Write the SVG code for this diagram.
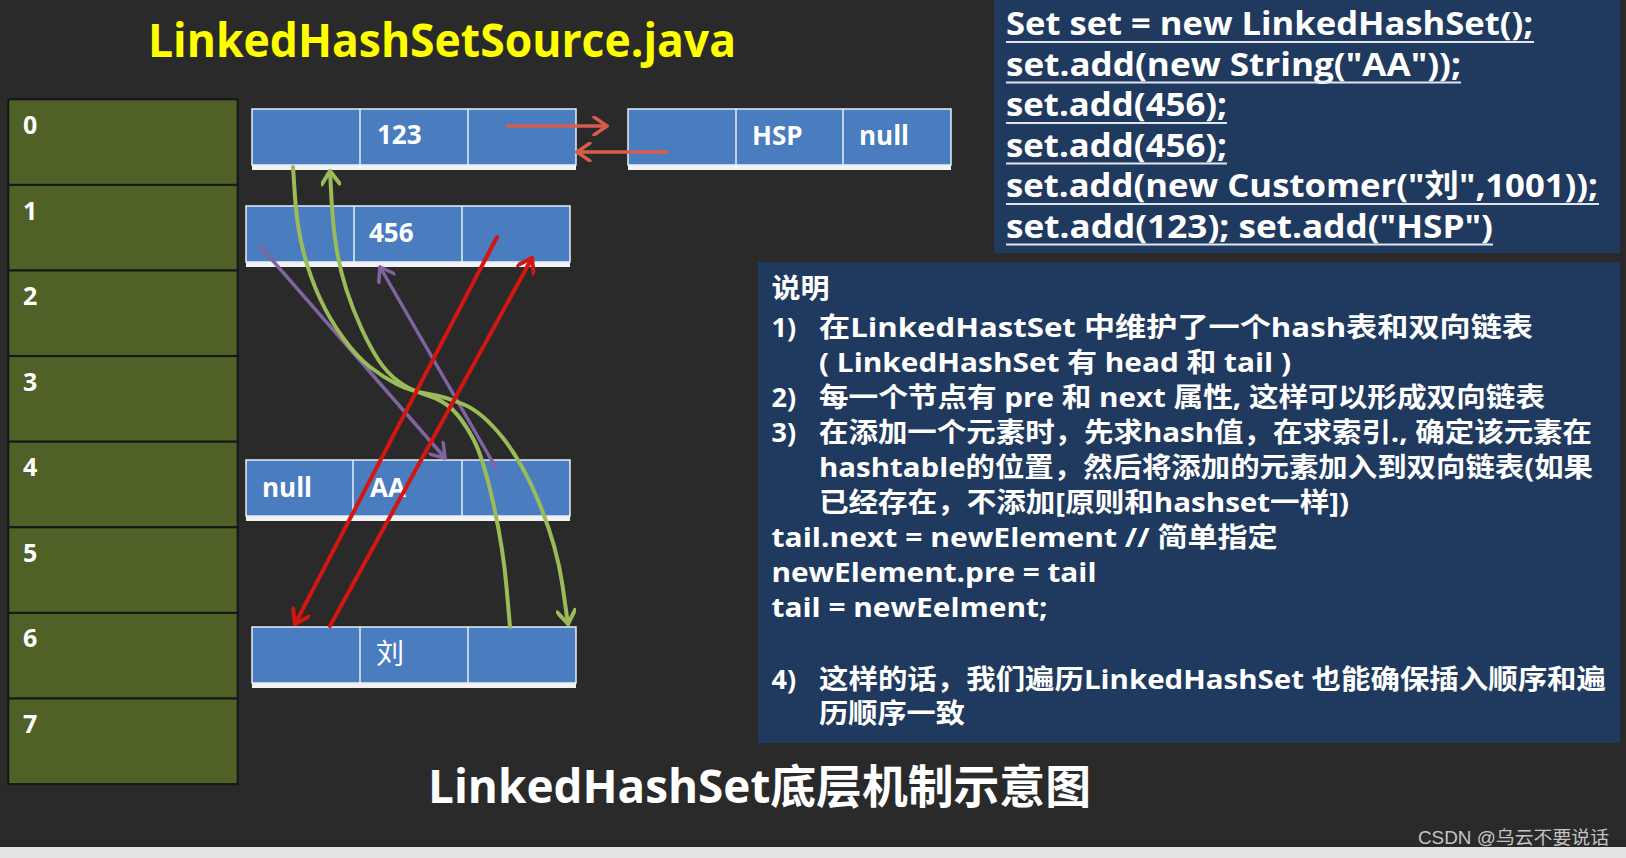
<svg xmlns="http://www.w3.org/2000/svg" width="1626" height="858" viewBox="0 0 1626 858">
<defs>
<style>
.bg{fill:#2a2a2a}
.cell{fill:#4f6127;stroke:#161616;stroke-width:2}
.idx{font-family:'Open Sans','Liberation Sans',sans-serif;font-weight:700;font-size:25px;fill:#ffffff}
.nbox{fill:#4a7cc0;stroke:#e8eef8;stroke-width:1.5}
.ndiv{stroke:#e8eef8;stroke-width:1.5}
.nbar{fill:#f2f2f2}
.ntxt{font-family:'Open Sans','Liberation Sans',sans-serif;font-weight:700;font-size:26px;fill:#ffffff}
.ncjk{font-family:'Noto Sans CJK SC',sans-serif;font-weight:400;font-size:28px;fill:#ffffff}
.panel{fill:#1f3a5e}
.code{font-family:'Open Sans','Noto Sans CJK SC',sans-serif;font-weight:700;font-size:32px;fill:#ffffff}
.uline{stroke:#dfe6f0;stroke-width:2}
.exp{font-family:'Open Sans','Noto Sans CJK SC',sans-serif;font-weight:700;font-size:27px;fill:#ffffff}
.title{font-family:'Open Sans','Noto Sans CJK SC',sans-serif;font-weight:700;font-size:46px}
.green{fill:none;stroke:#9bbb59;stroke-width:4;stroke-linecap:round}
.purple{fill:none;stroke:#8064a2;stroke-width:3.5;stroke-linecap:round}
.red{fill:none;stroke:#d3160f;stroke-width:4;stroke-linecap:round}
.salmon{fill:none;stroke:#d65c4c;stroke-width:3.5;stroke-linecap:round}
</style>
<marker id="mg" markerUnits="userSpaceOnUse" viewBox="0 0 20 20" refX="17" refY="10" markerWidth="20" markerHeight="20" orient="auto"><path d="M4,1 L17,10 L4,19" fill="none" stroke="#9bbb59" stroke-width="4" stroke-linecap="round" stroke-linejoin="round"/></marker>
<marker id="mp" markerUnits="userSpaceOnUse" viewBox="0 0 20 20" refX="17" refY="10" markerWidth="20" markerHeight="20" orient="auto"><path d="M4,1 L17,10 L4,19" fill="none" stroke="#8064a2" stroke-width="3.5" stroke-linecap="round" stroke-linejoin="round"/></marker>
<marker id="mr" markerUnits="userSpaceOnUse" viewBox="0 0 20 20" refX="17" refY="10" markerWidth="20" markerHeight="20" orient="auto"><path d="M4,1 L17,10 L4,19" fill="none" stroke="#d3160f" stroke-width="4" stroke-linecap="round" stroke-linejoin="round"/></marker>
<marker id="ms" markerUnits="userSpaceOnUse" viewBox="0 0 20 20" refX="17" refY="10" markerWidth="20" markerHeight="20" orient="auto"><path d="M4,1 L17,10 L4,19" fill="none" stroke="#d65c4c" stroke-width="3.5" stroke-linecap="round" stroke-linejoin="round"/></marker>
</defs>
<rect class="bg" x="0" y="0" width="1626" height="858"/>
<rect x="0" y="847" width="1626" height="11" fill="#e4e4e4"/>

<text class="title" x="148" y="57" fill="#ffff00" textLength="588" lengthAdjust="spacingAndGlyphs">LinkedHashSetSource.java</text>

<g id="table">
<g id="row0"><rect class="cell" x="8.3" y="99.3" width="229.4" height="85.6"/><text class="idx" x="23" y="134">0</text></g>
<g id="row1"><rect class="cell" x="8.3" y="184.9" width="229.4" height="85.6"/><text class="idx" x="23" y="219.5">1</text></g>
<g id="row2"><rect class="cell" x="8.3" y="270.5" width="229.4" height="85.6"/><text class="idx" x="23" y="305">2</text></g>
<g id="row3"><rect class="cell" x="8.3" y="356.1" width="229.4" height="85.6"/><text class="idx" x="23" y="390.6">3</text></g>
<g id="row4"><rect class="cell" x="8.3" y="441.7" width="229.4" height="85.6"/><text class="idx" x="23" y="476.2">4</text></g>
<g id="row5"><rect class="cell" x="8.3" y="527.3" width="229.4" height="85.6"/><text class="idx" x="23" y="561.8">5</text></g>
<g id="row6"><rect class="cell" x="8.3" y="612.9" width="229.4" height="85.6"/><text class="idx" x="23" y="647.4">6</text></g>
<g id="row7"><rect class="cell" x="8.3" y="698.5" width="229.4" height="85.6"/><text class="idx" x="23" y="733">7</text></g>
</g>

<g id="node-123">
<rect class="nbar" x="252" y="163" width="324" height="7"/>
<rect class="nbox" x="252" y="109" width="324" height="56"/>
<line class="ndiv" x1="360" y1="109" x2="360" y2="165"/><line class="ndiv" x1="468" y1="109" x2="468" y2="165"/>
<text class="ntxt" x="377" y="144">123</text>
</g>
<g id="node-HSP">
<rect class="nbar" x="628" y="163" width="323" height="7"/>
<rect class="nbox" x="628" y="109" width="323" height="56"/>
<line class="ndiv" x1="736" y1="109" x2="736" y2="165"/><line class="ndiv" x1="843" y1="109" x2="843" y2="165"/>
<text class="ntxt" x="752" y="145">HSP</text>
<text class="ntxt" x="859" y="145">null</text>
</g>
<g id="node-456">
<rect class="nbar" x="246" y="260" width="324" height="7"/>
<rect class="nbox" x="246" y="206" width="324" height="56"/>
<line class="ndiv" x1="354" y1="206" x2="354" y2="262"/><line class="ndiv" x1="462" y1="206" x2="462" y2="262"/>
<text class="ntxt" x="369" y="242">456</text>
</g>
<g id="node-AA">
<rect class="nbar" x="246" y="514" width="324" height="7"/>
<rect class="nbox" x="246" y="460" width="324" height="56"/>
<line class="ndiv" x1="353" y1="460" x2="353" y2="516"/><line class="ndiv" x1="462" y1="460" x2="462" y2="516"/>
<text class="ntxt" x="262" y="497">null</text>
<text class="ntxt" x="370" y="497">AA</text>
</g>
<g id="node-liu">
<rect class="nbar" x="252" y="681" width="324" height="7"/>
<rect class="nbox" x="252" y="627" width="324" height="56"/>
<line class="ndiv" x1="360" y1="627" x2="360" y2="683"/><line class="ndiv" x1="468" y1="627" x2="468" y2="683"/>
<text class="ncjk" x="376" y="664">刘</text>
</g>

<g id="connectors">
<path class="salmon" d="M508,126 L607,126" marker-end="url(#ms)"/>
<path class="salmon" d="M667,152 L577,152" marker-end="url(#ms)"/>
<path class="purple" d="M260,246 L445,458" marker-end="url(#mp)"/>
<path class="purple" d="M496,468 L380,267" marker-end="url(#mp)"/>
<path class="green" d="M293,167 L295,197 Q297,227 303.5,252 Q310,277 320,298.5 Q330,320 343.5,338.5 Q357,357 370,367 Q383,377 396.5,384 Q410,391 428.5,394 Q447,397 465,405 Q483,413 503,438 Q523,463 540,505 Q557,547 562.5,585.5 L568,624" marker-end="url(#mg)"/>
<path class="green" d="M510,627 L506.5,587 Q503,547 493,502 Q483,457 473,438.5 Q463,420 453,410 Q443,400 426.5,395 Q410,390 398.5,381.5 Q387,373 378.5,360 Q370,347 361.5,328.5 Q353,310 346.5,290 Q340,270 336.5,248.5 Q333,227 331.5,199.5 L330,171" marker-end="url(#mg)"/>
<path class="red" d="M497,237 L295,624" marker-end="url(#mr)"/>
<path class="red" d="M330,626 L532,258" marker-end="url(#mr)"/>
</g>

<g id="code-box">
<rect class="panel" x="994" y="0" width="626" height="253"/>
<text class="code" x="1006" y="35" textLength="527" lengthAdjust="spacingAndGlyphs">Set set = new LinkedHashSet();</text>
<line class="uline" x1="1006" y1="42" x2="1534" y2="42"/>
<text class="code" x="1006" y="75.5" textLength="455" lengthAdjust="spacingAndGlyphs">set.add(new String("AA"));</text>
<line class="uline" x1="1006" y1="82.5" x2="1461" y2="82.5"/>
<text class="code" x="1006" y="116" textLength="221" lengthAdjust="spacingAndGlyphs">set.add(456);</text>
<line class="uline" x1="1006" y1="123" x2="1227" y2="123"/>
<text class="code" x="1006" y="156.5" textLength="221" lengthAdjust="spacingAndGlyphs">set.add(456);</text>
<line class="uline" x1="1006" y1="163.5" x2="1227" y2="163.5"/>
<text class="code" x="1006" y="197" textLength="592" lengthAdjust="spacingAndGlyphs">set.add(new Customer("刘",1001));</text>
<line class="uline" x1="1006" y1="204" x2="1599" y2="204"/>
<text class="code" x="1006" y="237.5" textLength="487" lengthAdjust="spacingAndGlyphs">set.add(123); set.add("HSP")</text>
<line class="uline" x1="1006" y1="244.5" x2="1493" y2="244.5"/>
</g>

<g id="explain-box">
<rect class="panel" x="758" y="262" width="862" height="481"/>
<text class="exp" x="771.5" y="298" textLength="58" lengthAdjust="spacingAndGlyphs">说明</text>
<text class="exp" x="771.5" y="337">1)</text>
<text class="exp" x="819" y="337" textLength="714" lengthAdjust="spacingAndGlyphs">在LinkedHastSet 中维护了一个hash表和双向链表</text>
<text class="exp" x="819" y="372" textLength="472" lengthAdjust="spacingAndGlyphs">( LinkedHashSet 有 head 和 tail )</text>
<text class="exp" x="771.5" y="407">2)</text>
<text class="exp" x="819" y="407" textLength="726" lengthAdjust="spacingAndGlyphs">每一个节点有 pre 和 next 属性, 这样可以形成双向链表</text>
<text class="exp" x="771.5" y="442">3)</text>
<text class="exp" x="819" y="442" textLength="773" lengthAdjust="spacingAndGlyphs">在添加一个元素时，先求hash值，在求索引., 确定该元素在</text>
<text class="exp" x="819" y="477" textLength="774" lengthAdjust="spacingAndGlyphs">hashtable的位置，然后将添加的元素加入到双向链表(如果</text>
<text class="exp" x="819" y="512" textLength="530" lengthAdjust="spacingAndGlyphs">已经存在，不添加[原则和hashset一样])</text>
<text class="exp" x="771.5" y="547" textLength="506" lengthAdjust="spacingAndGlyphs">tail.next = newElement // 简单指定</text>
<text class="exp" x="771.5" y="582" textLength="325" lengthAdjust="spacingAndGlyphs">newElement.pre = tail</text>
<text class="exp" x="771.5" y="617" textLength="276" lengthAdjust="spacingAndGlyphs">tail = newEelment;</text>
<text class="exp" x="771.5" y="689">4)</text>
<text class="exp" x="819" y="689" textLength="787" lengthAdjust="spacingAndGlyphs">这样的话，我们遍历LinkedHashSet 也能确保插入顺序和遍</text>
<text class="exp" x="819" y="723" textLength="146" lengthAdjust="spacingAndGlyphs">历顺序一致</text>
</g>

<text class="title" x="428" y="803" fill="#ffffff" textLength="663" lengthAdjust="spacingAndGlyphs">LinkedHashSet底层机制示意图</text>

<text x="1418" y="844" font-family="'Liberation Sans','Noto Sans CJK SC',sans-serif" font-size="18" fill="#c4c4c4" textLength="191" lengthAdjust="spacingAndGlyphs">CSDN @乌云不要说话</text>
</svg>
